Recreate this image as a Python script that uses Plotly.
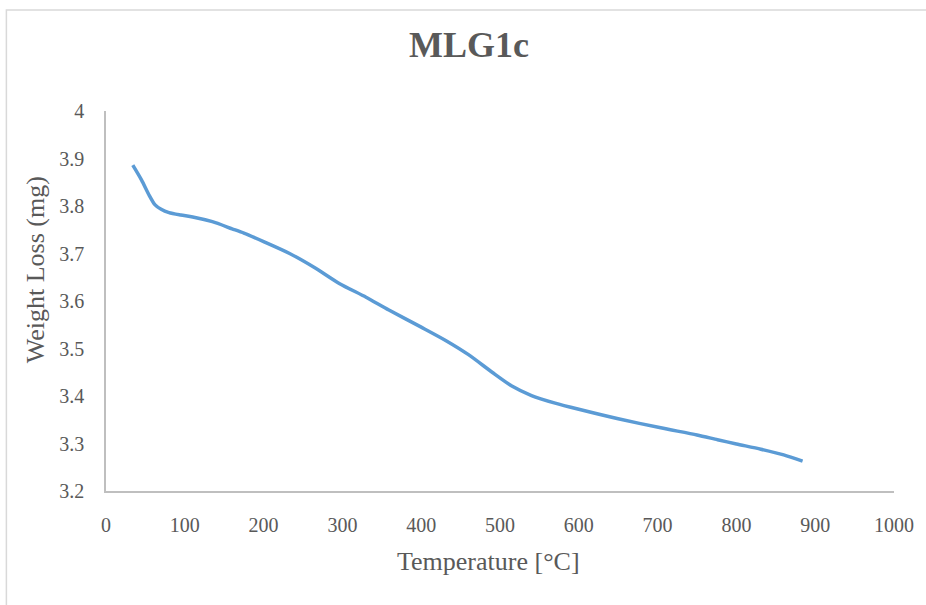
import plotly.graph_objects as go

temperature = [34, 45, 55, 62, 70, 80, 95, 110, 135, 160, 175, 200, 233, 265, 296, 330, 359,
               400, 431, 460, 490, 515, 540, 570, 600, 650, 704, 750, 776, 800, 831, 860, 884]
weight = [3.886, 3.855, 3.822, 3.803, 3.793, 3.786, 3.781, 3.777, 3.767, 3.752, 3.743, 3.725,
          3.700, 3.670, 3.637, 3.608, 3.581, 3.545, 3.517, 3.487, 3.450, 3.421, 3.401, 3.385,
          3.372, 3.352, 3.333, 3.318, 3.308, 3.299, 3.288, 3.276, 3.263]

title_text = "MLG1c"
x_title = "Temperature [°C]"
y_title = "Weight Loss (mg)"

FONT = "Liberation Serif, Times New Roman, serif"
GRAY = "#595959"

fig = go.Figure()
fig.add_trace(go.Scatter(x=temperature, y=weight, mode="lines",
                         line=dict(color="#5B9BD5", width=3.5, shape="spline", smoothing=0.7),
                         showlegend=False, hoverinfo="x+y"))

W, H = 926, 605
L, R, T, B = 106, 29, 111, 114
pw, ph = W - L - R, H - T - B

def px(x):
    return (x - L) / pw

def py(y):
    return (H - B - y) / ph

fig.update_layout(
    width=W, height=H,
    margin=dict(l=L, r=R, t=T, b=B),
    paper_bgcolor="white", plot_bgcolor="white",
    font=dict(family=FONT, color=GRAY, size=20),
    xaxis=dict(range=[0, 1000], dtick=100, tick0=0, showgrid=False, zeroline=False,
               showline=True, linecolor="#BFBFBF", linewidth=1.5, ticks="",
               ticklabelstandoff=15, tickfont=dict(size=20, family=FONT, color=GRAY)),
    yaxis=dict(range=[3.2, 4.0], dtick=0.1, tick0=3.2, showgrid=False, zeroline=False,
               showline=True, linecolor="#BFBFBF", linewidth=1.5, ticks="",
               ticklabelstandoff=16, tickfont=dict(size=20, family=FONT, color=GRAY)),
    shapes=[dict(type="rect", xref="paper", yref="paper",
                 x0=px(6), x1=px(935), y0=py(620), y1=py(10),
                 line=dict(color="#D9D9D9", width=1.5), layer="below")],
    annotations=[
        dict(text=f"<b>{title_text}</b>", xref="paper", yref="paper", x=px(470), y=py(45),
             xanchor="center", yanchor="middle", showarrow=False,
             font=dict(size=36, family=FONT, color=GRAY)),
        dict(text=x_title, xref="paper", yref="paper", x=px(490), y=py(561),
             xanchor="center", yanchor="middle", showarrow=False,
             font=dict(size=26, family=FONT, color=GRAY)),
        dict(text=y_title, xref="paper", yref="paper", x=px(35), y=py(270),
             xanchor="center", yanchor="middle", showarrow=False, textangle=-90,
             font=dict(size=26, family=FONT, color=GRAY)),
    ],
)

fig.write_html("out.html", config={"displayModeBar": False},
               post_script="document.body.style.margin='0';document.body.style.overflow='hidden';")
